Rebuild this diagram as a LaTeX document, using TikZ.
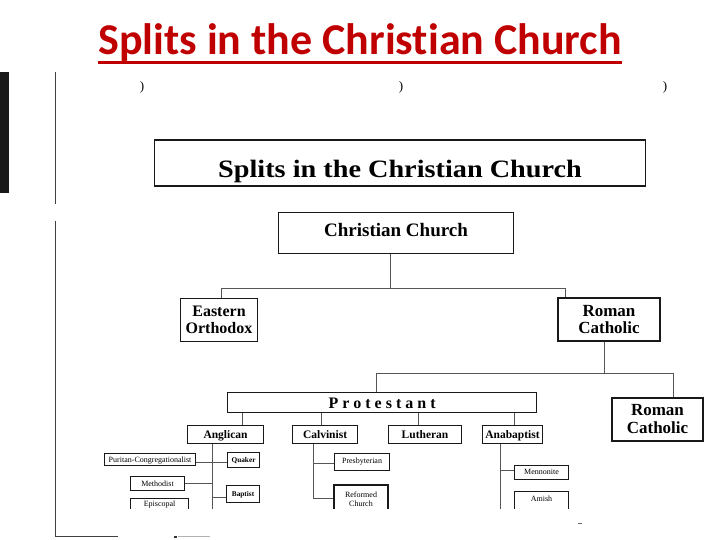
\documentclass[tikz,border=0pt]{standalone}
\usepackage{fontspec}
\usepackage{graphicx}
\setmainfont{Liberation Serif}
\newfontfamily\titlefont[RawFeature={-liga,-dlig,-calt,-clig}]{Carlito}
\definecolor{titlered}{RGB}{192,0,0}
\definecolor{boxc}{RGB}{25,25,25}
\definecolor{connc}{RGB}{85,85,85}
\tikzset{
  box/.style={draw=boxc, line width=1.1pt, inner sep=0pt, anchor=north west},
  boxc2/.style={draw=boxc, line width=1.1pt, inner sep=0pt, align=center, anchor=center},
  tb/.style 2 args={text height=#1, text depth=#2},
  conn/.style={draw=connc, line width=0.8pt},
  big/.style={font=\bfseries\fontsize{17}{17}\selectfont},
  mid/.style={font=\bfseries\fontsize{11.5}{13}\selectfont},
  small/.style={font=\fontsize{8}{9}\selectfont},
  smallb/.style={font=\bfseries\fontsize{7.3}{9}\selectfont},
}
\begin{document}
\begin{tikzpicture}[x=1pt,y=-1pt]
\useasboundingbox (0,0) rectangle (720,540);

% slide title
\node[font=\titlefont\bfseries\fontsize{44}{48}\selectfont, text=titlered, inner sep=0pt, anchor=base] (title) at (360,55) {Splits in the Christ\kern0pt ian Church};
\draw[titlered, line width=2.5pt] ([yshift=-7.5pt]title.base west) -- ([yshift=-7.5pt]title.base east);

% scan edges and marks
\fill[black!90] (0,72) rectangle (9,193);
\draw[black!75, line width=0.9pt] (55,72) -- (55,204);
\draw[black!75, line width=0.9pt] (55,221) -- (55,536) -- (118,536);
\draw[black!80, line width=1.2pt] (174,537) -- (177,537);
\draw[black!30, line width=0.6pt] (178,536.5) -- (210,536.5);
\draw[black!60, line width=0.8pt] (578,523) -- (582,523);
\node[font=\fontsize{13}{13}\selectfont, inner sep=0pt] (p1) at (142,87) {)};
\node[font=\fontsize{13}{13}\selectfont, inner sep=0pt] (p2) at (401,87) {)};
\node[font=\fontsize{13}{13}\selectfont, inner sep=0pt] (p3) at (665,87) {)};

\begin{scope}
\clip (0,0) rectangle (720,508);
% boxes
\node[box, minimum width=491pt, tb={37pt}{9pt}, font=\bfseries\fontsize{25}{28}\selectfont] (header) at (154,139.5) {\scalebox{1.13}[1]{Splits in the Christian Church}};
\node[box, minimum width=235pt, tb={24pt}{17pt}, font=\bfseries\fontsize{19}{22}\selectfont] (christian) at (278,212) {Christian Church};
\node[boxc2, minimum width=77pt, minimum height=43pt, font=\bfseries\fontsize{16}{17}\selectfont] (eastern) at (219,320) {Eastern\\Orthodox};
\node[boxc2, minimum width=102pt, minimum height=43pt, big] (rc1) at (609,319.5) {Roman\\Catholic};
\node[box, minimum width=309pt, tb={16pt}{4pt}, font=\bfseries\fontsize{16}{18}\selectfont] (protestant) at (227,392) {P r o t e s t a n t};
\node[boxc2, minimum width=91pt, minimum height=43pt, font=\bfseries\fontsize{17}{18}\selectfont] (rc2) at (657.5,419.5) {Roman\\Catholic};

\node[box, minimum width=76pt, tb={13pt}{5pt}, mid] (anglican) at (187,425) {Anglican};
\node[box, minimum width=65pt, tb={13pt}{5pt}, mid] (calvinist) at (292,425) {Calvinist};
\node[box, minimum width=73pt, tb={13pt}{5pt}, mid] (lutheran) at (388,425) {Lutheran};
\node[box, minimum width=60pt, tb={13pt}{5pt}, mid] (anabaptist) at (482,425) {Anabaptist};

\node[box, minimum width=91pt, tb={9pt}{3pt}, small] (puritan) at (104,453) {Puritan-Congregationalist};
\node[box, minimum width=32pt, tb={10pt}{5pt}, smallb] (quaker) at (227,452) {Quaker};
\node[box, minimum width=54pt, tb={10pt}{4pt}, small] (methodist) at (130,476) {Methodist};
\node[box, minimum width=33pt, tb={11pt}{6pt}, smallb] (baptist) at (226,485) {Baptist};
\node[box, minimum width=58pt, tb={8pt}{16pt}, small] (episcopal) at (130,498) {Episcopal};
\node[box, minimum width=55pt, tb={10pt}{7pt}, small] (presbyterian) at (334,453) {Presbyterian};
\node[boxc2, minimum width=54pt, minimum height=28pt, small] (reformed) at (361,499) {Reformed\\Church};
\node[box, minimum width=54pt, tb={9pt}{5pt}, small] (mennonite) at (514,465) {Mennonite};
\node[box, minimum width=54pt, tb={10pt}{16pt}, small] (amish) at (514,491) {Amish};

% connectors
\coordinate (b1L) at (221,288.5);
\coordinate (b1C) at (390,288.5);
\coordinate (b1R) at (565,288.5);
\draw[conn] (christian.south -| b1C) -- (b1C);
\draw[conn] (eastern.north -| b1L) -- (b1L) -- (b1R) -- (rc1.north -| b1R);
\coordinate (b2L) at (376,373);
\coordinate (b2C) at (604,373);
\coordinate (b2R) at (673,373);
\draw[conn] (rc1.south -| b2C) -- (b2C);
\draw[conn] (protestant.north -| b2L) -- (b2L) -- (b2R) -- (rc2.north -| b2R);
\coordinate (vA) at (242,0);
\coordinate (vC) at (321,0);
\coordinate (vL) at (418,0);
\coordinate (vN) at (514,0);
\draw[conn] (protestant.south -| vA) -- (anglican.north -| vA);
\draw[conn] (protestant.south -| vC) -- (calvinist.north -| vC);
\draw[conn] (protestant.south -| vL) -- (lutheran.north -| vL);
\draw[conn] (protestant.south -| vN) -- (anabaptist.north -| vN);

\coordinate (tA) at (212,0);
\coordinate (endA) at (212,512);
\coordinate (yP) at (0,462);
\coordinate (yB) at (0,497);
\draw[conn] (anglican.south -| tA) -- (endA);
\draw[conn] (puritan.east |- yP) -- (quaker.west |- yP);
\draw[conn] (methodist.east) -- (methodist.east -| tA);
\draw[conn] (tA |- yB) -- (baptist.west |- yB);

\coordinate (tC) at (313,0);
\coordinate (yR) at (0,498);
\coordinate (yPr) at (0,463);
\draw[conn] (calvinist.south -| tC) |- (reformed.west |- yR);
\draw[conn] (tC |- yPr) -- (presbyterian.west |- yPr);

\coordinate (tN) at (500,0);
\coordinate (yM) at (0,470);
\draw[conn] (anabaptist.south -| tN) -- (tN |- endA);
\draw[conn] (tN |- yM) -- (mennonite.west |- yM);
\end{scope}
\end{tikzpicture}
\end{document}
